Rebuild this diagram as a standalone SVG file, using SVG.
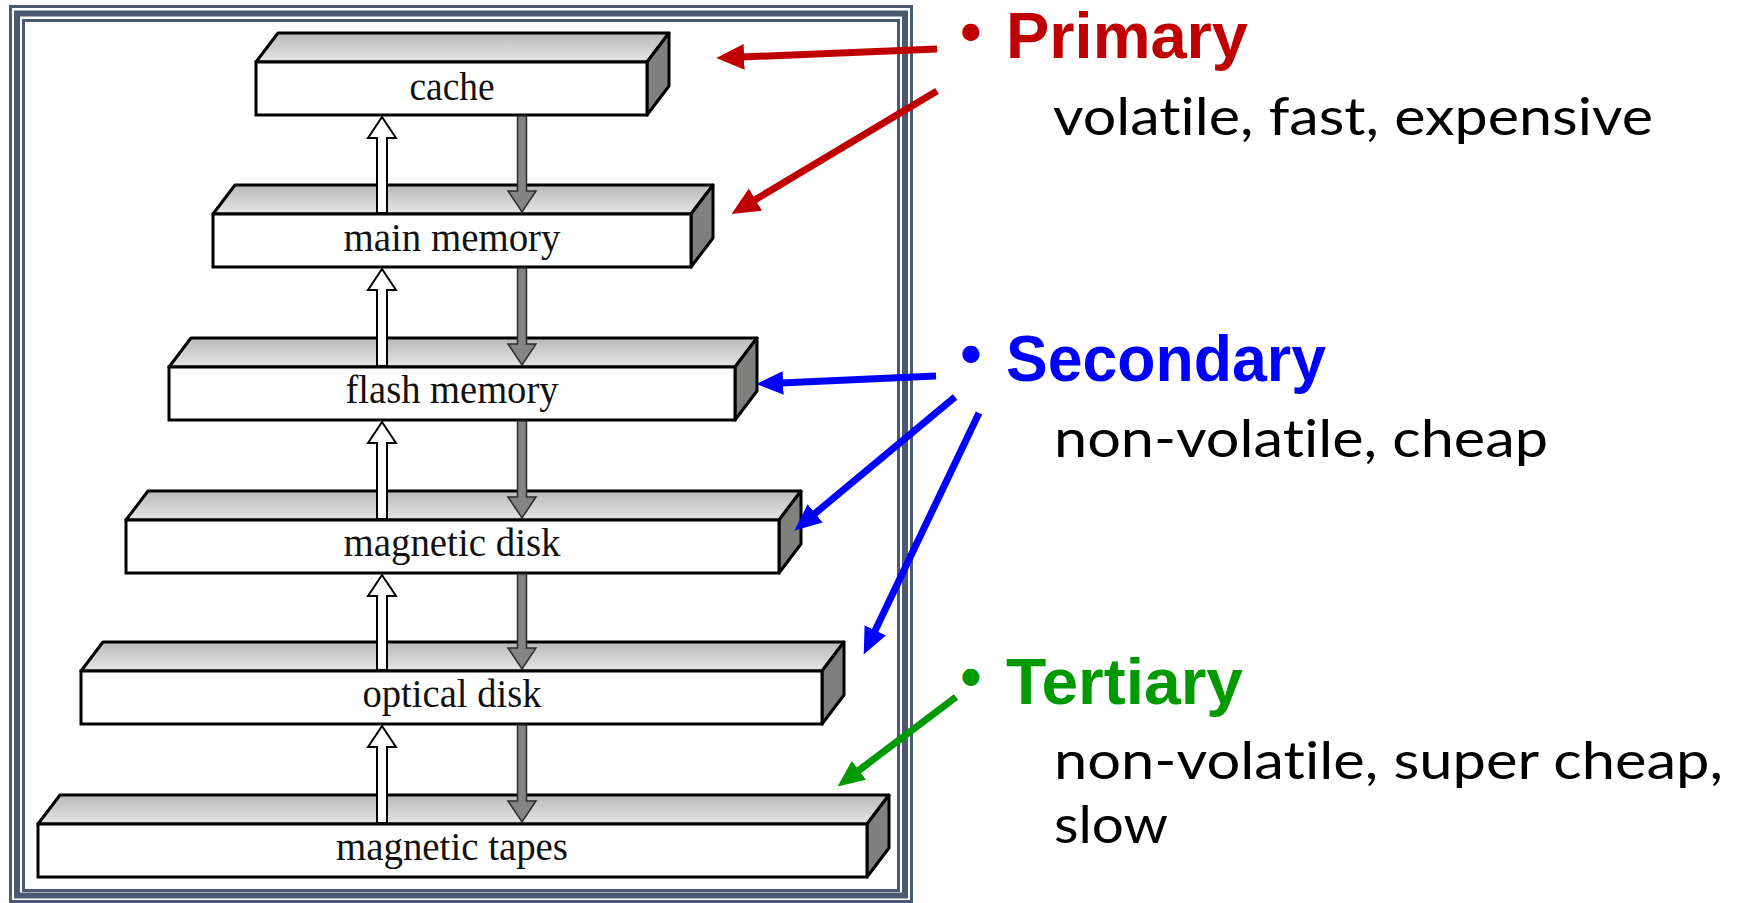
<svg xmlns="http://www.w3.org/2000/svg" width="1740" height="903" viewBox="0 0 1740 903">
<style>
.front{fill:#fff;stroke:#000;stroke-width:3;stroke-linejoin:miter}
.top{fill:url(#topg);stroke:#000;stroke-width:3;stroke-linejoin:round}
.side{fill:#7f807e;stroke:#000;stroke-width:3;stroke-linejoin:round}
.lbl{font-family:"Liberation Serif","DejaVu Serif",serif;font-size:39px;fill:#111;text-anchor:middle}
.up{fill:#fff;stroke:#000;stroke-width:2;stroke-linejoin:miter}
.down{fill:#848484;stroke:#2a2a2a;stroke-width:1.5;stroke-linejoin:miter}
.frame{fill:none;stroke:#4a5a72}
.hd{font-family:"Liberation Sans",Arial,sans-serif;font-weight:bold;font-size:64px}
.bul{font-family:Lato,"Liberation Sans",sans-serif;font-size:46px}
.sub{font-family:Lato,"Open Sans",sans-serif;font-size:53px;fill:#000;font-variant-ligatures:none;font-feature-settings:"liga" 0,"clig" 0}
.ann{fill:none;stroke-width:7;stroke-linecap:butt}
</style>
<defs>
<linearGradient id="topg" x1="0" y1="0" x2="0" y2="1">
<stop offset="0" stop-color="#b9b9b9"/>
<stop offset="1" stop-color="#e6e6e6"/>
</linearGradient>
<marker id="mr" markerUnits="userSpaceOnUse" markerWidth="30" markerHeight="30" viewBox="0 -13 28 26" refX="2" refY="0" orient="auto"><path d="M0,-12 L26,0 L0,12 z" fill="#c00000"/></marker>
<marker id="mb" markerUnits="userSpaceOnUse" markerWidth="30" markerHeight="30" viewBox="0 -13 28 26" refX="2" refY="0" orient="auto"><path d="M0,-11 L25,0 L0,11 z" fill="#0000ff"/></marker>
<marker id="mg" markerUnits="userSpaceOnUse" markerWidth="30" markerHeight="30" viewBox="0 -13 28 26" refX="2" refY="0" orient="auto"><path d="M0,-11 L25,0 L0,11 z" fill="#009900"/></marker>
</defs>
<rect width="1740" height="903" fill="#fff"/>
<g id="frame">
<rect class="frame" x="10.5" y="6.5" width="901" height="895" stroke-width="3"/>
<rect class="frame" x="17" y="13.5" width="888" height="882" stroke-width="6"/>
<rect class="frame" x="23.5" y="20.5" width="875" height="870" stroke-width="3"/>
</g>
<g id="cache">
<polygon class="top" points="256,62 278,33 669,33 647,62"/>
<polygon class="side" points="647,62 669,33 669,86 647,115"/>
<rect class="front" x="256" y="62" width="391" height="53"/>
<text class="lbl" x="452" y="100" textLength="85" lengthAdjust="spacingAndGlyphs">cache</text>
</g>
<g id="main-memory">
<polygon class="top" points="213,214 235,185 713,185 691,214"/>
<polygon class="side" points="691,214 713,185 713,238 691,267"/>
<rect class="front" x="213" y="214" width="478" height="53"/>
<text class="lbl" x="452" y="251" textLength="217" lengthAdjust="spacingAndGlyphs">main memory</text>
</g>
<g id="flash-memory">
<polygon class="top" points="169,367 191,338 757,338 735,367"/>
<polygon class="side" points="735,367 757,338 757,391 735,420"/>
<rect class="front" x="169" y="367" width="566" height="53"/>
<text class="lbl" x="452" y="403" textLength="213" lengthAdjust="spacingAndGlyphs">flash memory</text>
</g>
<g id="magnetic-disk">
<polygon class="top" points="126,520 148,491 801,491 779,520"/>
<polygon class="side" points="779,520 801,491 801,544 779,573"/>
<rect class="front" x="126" y="520" width="653" height="53"/>
<text class="lbl" x="452" y="556" textLength="217" lengthAdjust="spacingAndGlyphs">magnetic disk</text>
</g>
<g id="optical-disk">
<polygon class="top" points="81,671 103,642 844,642 822,671"/>
<polygon class="side" points="822,671 844,642 844,695 822,724"/>
<rect class="front" x="81" y="671" width="741" height="53"/>
<text class="lbl" x="452" y="707" textLength="179" lengthAdjust="spacingAndGlyphs">optical disk</text>
</g>
<g id="magnetic-tapes">
<polygon class="top" points="38,824 60,795 889,795 867,824"/>
<polygon class="side" points="867,824 889,795 889,848 867,877"/>
<rect class="front" x="38" y="824" width="829" height="53"/>
<text class="lbl" x="452" y="860" textLength="232" lengthAdjust="spacingAndGlyphs">magnetic tapes</text>
</g>
<g id="connectors">
<polygon class="up" points="382,117 396,138 387,138 387,213 377,213 377,138 368,138"/>
<polygon class="down" points="517.5,116 526.5,116 526.5,191 536,191 522,212 508,191 517.5,191"/>
<polygon class="up" points="382,269 396,290 387,290 387,366 377,366 377,290 368,290"/>
<polygon class="down" points="517.5,268 526.5,268 526.5,344 536,344 522,365 508,344 517.5,344"/>
<polygon class="up" points="382,422 396,443 387,443 387,519 377,519 377,443 368,443"/>
<polygon class="down" points="517.5,421 526.5,421 526.5,497 536,497 522,518 508,497 517.5,497"/>
<polygon class="up" points="382,575 396,596 387,596 387,670 377,670 377,596 368,596"/>
<polygon class="down" points="517.5,574 526.5,574 526.5,648 536,648 522,669 508,648 517.5,648"/>
<polygon class="up" points="382,726 396,747 387,747 387,823 377,823 377,747 368,747"/>
<polygon class="down" points="517.5,725 526.5,725 526.5,801 536,801 522,822 508,801 517.5,801"/>
<line class="ann" stroke="#c00000" x1="937" y1="49" x2="742" y2="57" marker-end="url(#mr)"/>
<line class="ann" stroke="#c00000" x1="937" y1="91" x2="753.6" y2="200.7" marker-end="url(#mr)"/>
<line class="ann" stroke="#0000ff" stroke-width="6" x1="936" y1="376" x2="781" y2="383" marker-end="url(#mb)"/>
<line class="ann" stroke="#0000ff" stroke-width="6" x1="955" y1="397" x2="813.5" y2="514.7" marker-end="url(#mb)"/>
<line class="ann" stroke="#0000ff" stroke-width="6" x1="979" y1="413" x2="874.3" y2="632.3" marker-end="url(#mb)"/>
<line class="ann" stroke="#009900" stroke-width="6" x1="956" y1="697" x2="857.2" y2="771.6" marker-end="url(#mg)"/>
</g>
<g id="primary">
<text class="bul" fill="#c00000" x="957.5" y="46">•</text>
<text class="hd" fill="#c00000" x="1006" y="58" textLength="242" lengthAdjust="spacingAndGlyphs">Primary</text>
<text class="sub" x="1053" y="135" textLength="600" lengthAdjust="spacingAndGlyphs">volatile, fast, expensive</text>
</g>
<g id="secondary">
<text class="bul" fill="#0000ff" x="957.5" y="368">•</text>
<text class="hd" fill="#0000ff" x="1006" y="381" textLength="320" lengthAdjust="spacingAndGlyphs">Secondary</text>
<text class="sub" x="1054" y="457" textLength="494" lengthAdjust="spacingAndGlyphs">non-volatile, cheap</text>
</g>
<g id="tertiary">
<text class="bul" fill="#009900" x="957.5" y="691">•</text>
<text class="hd" fill="#009900" x="1006" y="704" textLength="237" lengthAdjust="spacingAndGlyphs">Tertiary</text>
<text class="sub"><tspan x="1054" y="779" textLength="669" lengthAdjust="spacingAndGlyphs">non-volatile, super cheap,</tspan><tspan x="1054" y="843" textLength="114" lengthAdjust="spacingAndGlyphs">slow</tspan></text>
</g>
</svg>
